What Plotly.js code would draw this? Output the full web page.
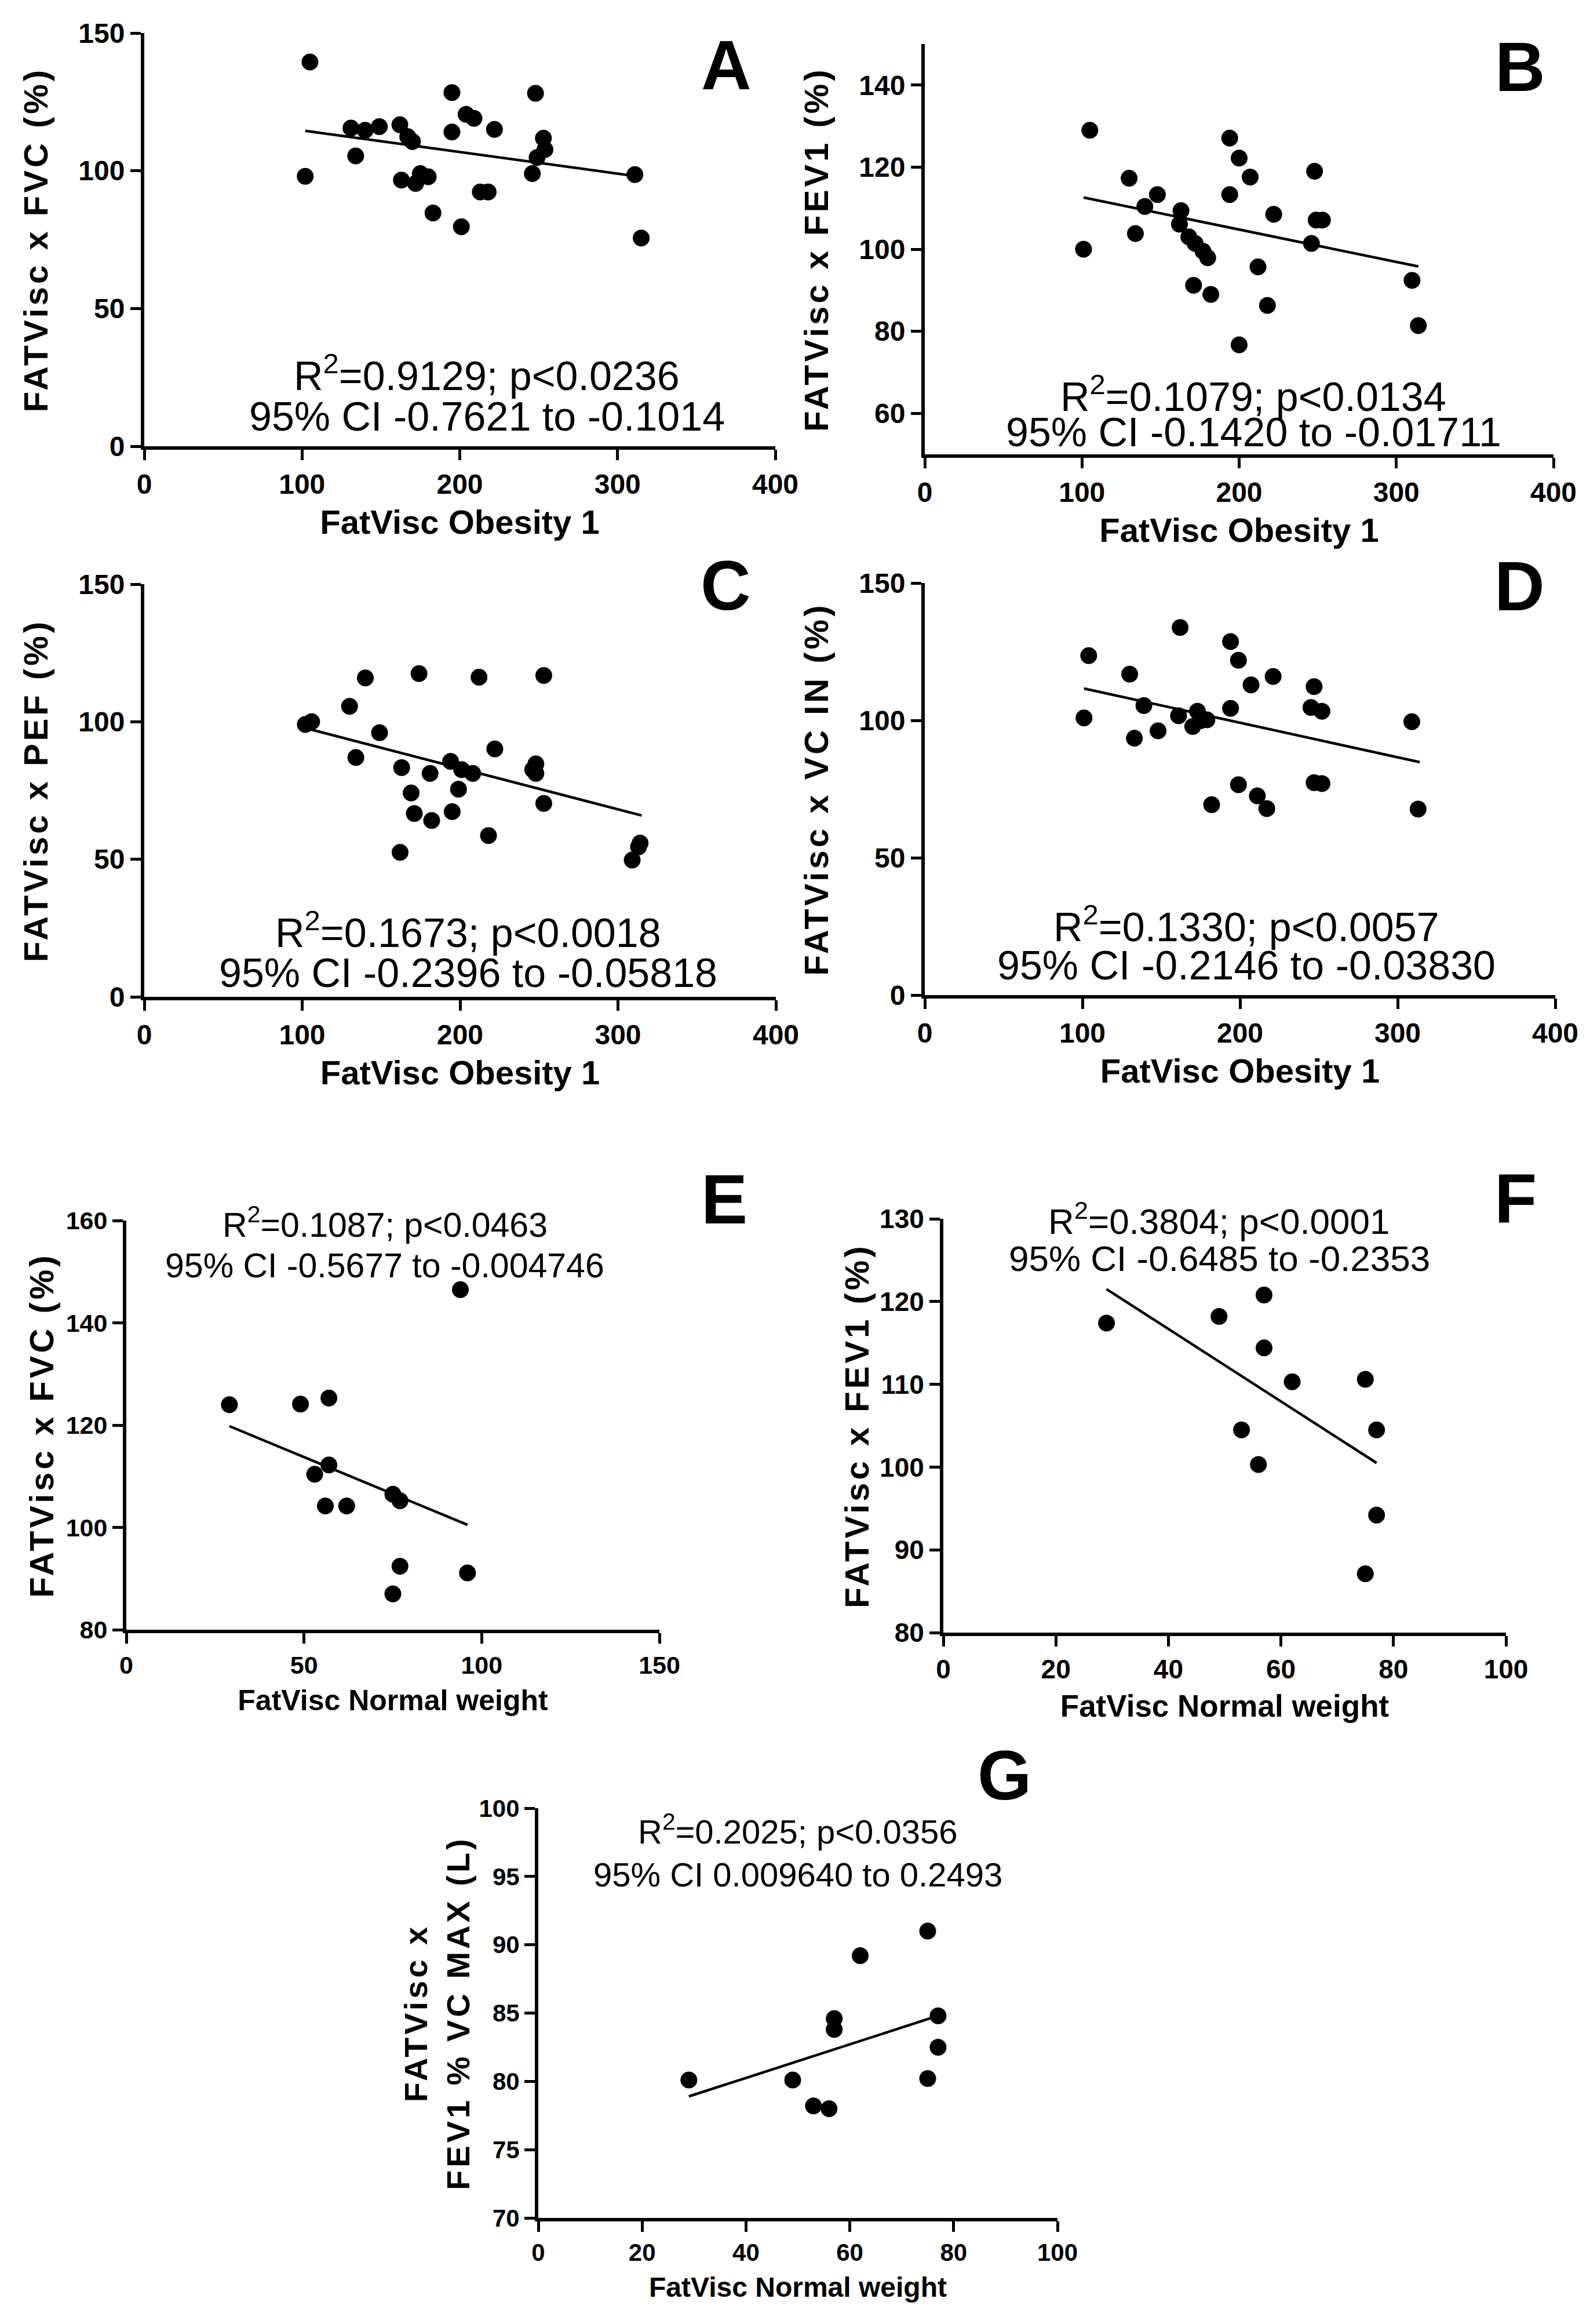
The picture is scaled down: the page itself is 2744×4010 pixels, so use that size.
<!DOCTYPE html>
<html>
<head>
<meta charset="utf-8">
<script src="https://cdn.plot.ly/plotly-3.0.1.min.js"></script>
<style>
  body { margin: 0; background: #fff; }
  /* the y titles in the figure are letter-spaced */
  text[class^="y"][class$="title"] { letter-spacing: 5px; }
</style>
</head>
<body>
<div id="myDiv"></div>
<script>
// panel A - FVC, obesity 1
let aX = [105, 102, 131, 134, 140, 149, 162, 167, 170, 163, 172, 175, 180, 183, 195, 195, 201, 204, 209, 213, 218, 222, 246, 248, 249, 253, 254, 311, 315];
let aY = [139.5, 98, 115.5, 105.4, 114.7, 116, 116.7, 112.4, 110.6, 96.6, 95.4, 99, 97.8, 84.7, 128.4, 114.1, 79.7, 120.5, 119, 92.3, 92.3, 115, 99, 128.1, 104.8, 111.8, 107.7, 98.6, 75.6];
let aFitX = [102, 311];
let aFitY = [114.5, 98.1];

// panel B - FEV1, obesity 1
let bX = [105, 101, 130, 134, 140, 148, 163, 162, 168, 171, 172, 177, 180, 182, 194, 194, 200, 200, 207, 212, 218, 222, 248, 246, 249, 253, 310, 314];
let bY = [129, 100, 117.3, 103.8, 110.4, 113.3, 109.4, 106.1, 103, 91.2, 101.4, 99.5, 97.9, 89, 127.1, 113.3, 122.2, 76.7, 117.6, 95.7, 86.3, 108.5, 119, 101.4, 107.1, 107.1, 92.4, 81.4];
let bFitX = [101, 314];
let bFitY = [112.6, 95.8];

// panel C - PEF, obesity 1
let cX = [102, 106, 130, 140, 134, 149, 163, 162, 169, 171, 174, 181, 182, 194, 195, 199, 201, 208, 212, 218, 222, 246, 248, 248, 253, 253, 309, 313, 314];
let cY = [99, 100, 105.6, 115.9, 87, 96, 83.3, 52.5, 74.1, 66.6, 117.5, 81.2, 64.1, 85.6, 67.3, 75.5, 82.6, 81.2, 116.2, 58.6, 90.1, 82.6, 84.7, 81.2, 116.8, 70.3, 49.7, 54.5, 55.9];
let cFitX = [102, 315];
let cFitY = [97.7, 65.9];

// panel D - VC IN, obesity 1
let dX = [104, 101, 130, 133, 139, 148, 162, 161, 170, 173, 175, 179, 182, 194, 194, 199, 199, 207, 211, 217, 221, 247, 245, 252, 247, 252, 309, 313];
let dY = [123.6, 100.9, 116.8, 93.5, 105.4, 96.2, 133.8, 101.7, 97.8, 103.3, 99.9, 100.2, 69.3, 128.7, 104.4, 121.9, 76.6, 112.9, 72.5, 67.9, 116, 112.3, 104.7, 103.3, 77.3, 77, 99.5, 67.7];
let dFitX = [101, 314];
let dFitY = [111.6, 84.8];

// panel E - FVC, normal weight
let eX = [29, 49, 57, 94, 53, 57, 56, 62, 75, 77, 77, 75, 96];
let eY = [124, 124.1, 125.3, 146.5, 110.4, 112.2, 104.2, 104.2, 106.5, 105.2, 92.4, 87, 91.1];
let eFitX = [29, 96];
let eFitY = [119.8, 100.5];

// panel F - FEV1, normal weight
let fX = [29, 49, 57, 57, 62, 75, 53, 77, 56, 77, 75];
let fY = [117.4, 118.2, 120.8, 114.4, 110.3, 110.6, 104.5, 104.5, 100.3, 94.2, 87.1];
let fFitX = [29, 77];
let fFitY = [121.5, 100.5];

// panel G - FEV1 % VC MAX, normal weight
let gX = [29, 49, 53, 56, 57, 57, 62, 75, 75, 77, 77];
let gY = [80.1, 80.1, 78.2, 78, 84.6, 83.8, 89.2, 91, 80.2, 84.8, 82.5];
let gFitX = [29, 77];
let gFitY = [78.9, 84.8];

let statLines = [
  ["R<sup>2</sup>=0.9129; p&lt;0.0236", "95% CI -0.7621 to -0.1014"],
  ["R<sup>2</sup>=0.1079; p&lt;0.0134", "95% CI -0.1420 to -0.01711"],
  ["R<sup>2</sup>=0.1673; p&lt;0.0018", "95% CI -0.2396 to -0.05818"],
  ["R<sup>2</sup>=0.1330; p&lt;0.0057", "95% CI -0.2146 to -0.03830"],
  ["R<sup>2</sup>=0.1087; p&lt;0.0463", "95% CI -0.5677 to -0.004746"],
  ["R<sup>2</sup>=0.3804; p&lt;0.0001", "95% CI -0.6485 to -0.2353"],
  ["R<sup>2</sup>=0.2025; p&lt;0.0356", "95% CI 0.009640 to 0.2493"]
];
let panelLetters = ["A", "B", "C", "D", "E", "F", "G"];
let yTitles = [
  "FATVisc x FVC (%)",
  "FATVisc x FEV1 (%)",
  "FATVisc x PEF (%)",
  "FATVisc x VC IN (%)",
  "FATVisc x FVC (%)",
  "FATVisc x FEV1 (%)",
  "FATVisc x<br>FEV1 % VC MAX (L)"
];
let xTitles = [
  "FatVisc Obesity 1", "FatVisc Obesity 1", "FatVisc Obesity 1", "FatVisc Obesity 1",
  "FatVisc Normal weight", "FatVisc Normal weight", "FatVisc Normal weight"
];

const W = 2744;
const H = 4010;
const FONT = "Liberation Sans, Arial, sans-serif";

// plot boxes in page pixels: left, right, top, bottom
let boxes = [
  [249, 1338, 57, 770],
  [1596, 2681, 76, 784],
  [249, 1339, 1008, 1720],
  [1596, 2684, 1006, 1717],
  [218, 1138, 2106, 2812],
  [1628, 2599, 2103, 2817],
  [929, 1825, 3120, 3827]
];
let xRanges = [[0, 400], [0, 400], [0, 400], [0, 400], [0, 150], [0, 100], [0, 100]];
let yRanges = [[0, 150], [50, 150], [0, 150], [0, 150], [80, 160], [80, 130], [70, 100]];
let xDt = [100, 100, 100, 100, 50, 20, 20];
let yDt = [50, 20, 50, 50, 20, 10, 5];
let tickSize = [48, 48, 48, 48, 43, 46, 42];
let xTitleSize = [58, 58, 58, 58, 50, 53, 48];
let yTitleSize = [58, 58, 58, 58, 58, 58, 56];
let yStandoff = [36, 36, 36, 36, 4, 2, 0];
let statSize = [70, 70, 70, 70, 59, 62, 58];
// centre of the stats text (px) and its two line heights
let statPos = [
  [840, 644, 719],
  [2163, 680, 746],
  [808, 1605, 1679],
  [2151, 1595, 1666],
  [664, 2109, 2184],
  [2104, 2103, 2171],
  [1377, 3156, 3234]
];
let letterPos = [
  [1253, 112], [2623, 115], [1252, 1010], [2622, 1011],
  [1250, 2069], [2615, 2067], [1733, 3063]
];

let xs = [aX, bX, cX, dX, eX, fX, gX];
let ys = [aY, bY, cY, dY, eY, fY, gY];
let fitXs = [aFitX, bFitX, cFitX, dFitX, eFitX, fFitX, gFitX];
let fitYs = [aFitY, bFitY, cFitY, dFitY, eFitY, fFitY, gFitY];

let data = [];
let layout = {
  width: W,
  height: H,
  margin: { l: 0, r: 0, t: 0, b: 0 },
  paper_bgcolor: "white",
  plot_bgcolor: "white",
  showlegend: false,
  annotations: []
};

for (let i = 0; i < 7; i++) {
  let n = i == 0 ? "" : String(i + 1);
  let box = boxes[i];

  data.push({
    x: xs[i],
    y: ys[i],
    xaxis: "x" + n,
    yaxis: "y" + n,
    mode: "markers",
    type: "scatter",
    cliponaxis: false,
    marker: { color: "black", size: 29 }
  });
  data.push({
    x: fitXs[i],
    y: fitYs[i],
    xaxis: "x" + n,
    yaxis: "y" + n,
    mode: "lines",
    type: "scatter",
    line: { color: "black", width: 4.5 }
  });

  let common = {
    showline: true,
    linecolor: "black",
    linewidth: 6,
    ticks: "outside",
    ticklen: 18,
    tickwidth: 5,
    tickcolor: "black",
    showgrid: false,
    zeroline: false,
    fixedrange: true,
    tickfont: { family: FONT, size: tickSize[i], weight: "bold", color: "black" }
  };

  layout["xaxis" + n] = Object.assign({}, common, {
    domain: [box[0] / W, box[1] / W],
    anchor: "y" + n,
    range: xRanges[i],
    dtick: xDt[i],
    tick0: 0,
    title: {
      text: xTitles[i],
      standoff: 22,
      font: { family: FONT, size: xTitleSize[i], weight: "bold", color: "black" }
    }
  });
  layout["yaxis" + n] = Object.assign({}, common, {
    domain: [1 - box[3] / H, 1 - box[2] / H],
    anchor: "x" + n,
    range: yRanges[i],
    dtick: yDt[i],
    tick0: 0,
    title: {
      text: yTitles[i],
      standoff: yStandoff[i],
      font: { family: FONT, size: yTitleSize[i], weight: "bold", color: "black" }
    }
  });

  let sp = statPos[i];
  for (let k = 0; k < 2; k++) {
    layout.annotations.push({
      xref: "paper",
      yref: "paper",
      x: sp[0] / W,
      y: 1 - sp[k + 1] / H,
      xanchor: "center",
      yanchor: "middle",
      showarrow: false,
      text: statLines[i][k],
      font: { family: FONT, size: statSize[i], color: "black" }
    });
  }

  layout.annotations.push({
    xref: "paper",
    yref: "paper",
    x: letterPos[i][0] / W,
    y: 1 - letterPos[i][1] / H,
    xanchor: "center",
    yanchor: "middle",
    showarrow: false,
    text: panelLetters[i],
    font: { family: FONT, size: 120, weight: "bold", color: "black" }
  });
}

Plotly.newPlot("myDiv", data, layout, { staticPlot: true });
</script>
</body>
</html>
